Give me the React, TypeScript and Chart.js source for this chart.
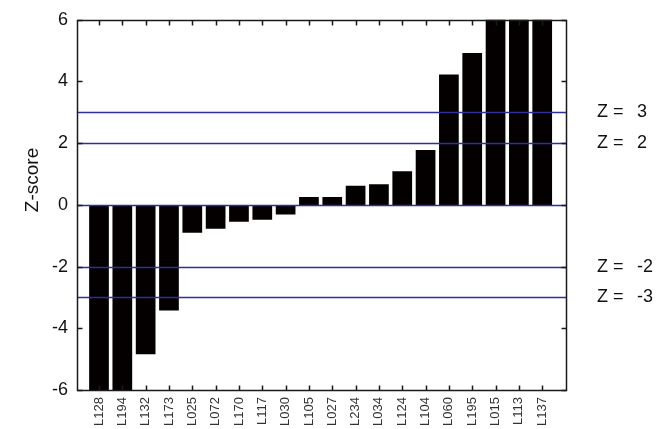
import React, { useEffect, useRef } from 'react';
import { Chart, registerables } from 'chart.js';

Chart.register(...registerables);

const categories = ['L128', 'L194', 'L132', 'L173', 'L025', 'L072', 'L170', 'L117', 'L030', 'L105', 'L027', 'L234', 'L034', 'L124', 'L104', 'L060', 'L195', 'L015', 'L113', 'L137'];
const zScores = [-6.5, -6.3, -4.84, -3.42, -0.9, -0.77, -0.55, -0.48, -0.31, 0.26, 0.26, 0.62, 0.67, 1.09, 1.78, 4.23, 4.92, 6.5, 6.6, 6.7];
const yTickValues = [-6, -4, -2, 0, 2, 4, 6];
const referenceLines = [3, 2, 0, -2, -3];
const labelledLines = [3, 2, -2, -3];
const yTitle = 'Z-score';

const FONT = "'Liberation Sans', Arial, Helvetica, sans-serif";

export default function App() {
  const ref = useRef<HTMLCanvasElement>(null);

  useEffect(() => {
    document.body.style.margin = '0';
    const canvas = ref.current;
    if (!canvas) return;

    const linesPlugin = {
      id: 'refLines',
      afterDatasetsDraw(chart: any) {
        const { ctx, chartArea } = chart;
        const { left, right } = chartArea;
        const ys = chart.scales.y;
        ctx.save();
        ctx.strokeStyle = '#2e2e9e';
        ctx.lineWidth = 1.4;
        referenceLines.forEach((v) => {
          const py = Math.round(ys.getPixelForValue(v)) + 0.5;
          ctx.beginPath();
          ctx.moveTo(left, py);
          ctx.lineTo(right, py);
          ctx.stroke();
        });
        ctx.restore();
      },
    };

    const framePlugin = {
      id: 'frameBox',
      afterDraw(chart: any) {
        const ctx: CanvasRenderingContext2D = chart.ctx;
        const { left, right, top, bottom } = chart.chartArea;
        const xs = chart.scales.x;
        const ys = chart.scales.y;
        const l = Math.round(left) + 0.5;
        const r = Math.round(right) + 0.5;
        const t = Math.round(top) + 0.5;
        const b = Math.round(bottom) + 0.5;
        ctx.save();
        ctx.setLineDash([]);
        ctx.globalAlpha = 1;
        ctx.strokeStyle = '#1a1a1a';
        ctx.lineWidth = 1.5;
        ctx.beginPath();
        categories.forEach((_, i) => {
          const px = Math.round(xs.getPixelForValue(i)) + 0.5;
          ctx.moveTo(px, b);
          ctx.lineTo(px, b - 5);
          ctx.moveTo(px, t);
          ctx.lineTo(px, t + 5);
        });
        yTickValues.forEach((v) => {
          const py = Math.round(ys.getPixelForValue(v)) + 0.5;
          ctx.moveTo(l, py);
          ctx.lineTo(l + 5, py);
          ctx.moveTo(r, py);
          ctx.lineTo(r - 5, py);
        });
        ctx.stroke();
        ctx.beginPath();
        ctx.rect(l, t, r - l, b - t);
        ctx.stroke();

        ctx.fillStyle = '#111';
        ctx.font = `18px ${FONT}`;
        ctx.textBaseline = 'middle';
        ctx.textAlign = 'left';
        labelledLines.forEach((v) => {
          const py = ys.getPixelForValue(v);
          ctx.fillText('Z =', right + 31, py);
          ctx.fillText(String(v), right + 71, py);
        });

        ctx.translate(33, 180);
        ctx.rotate(-Math.PI / 2);
        ctx.textAlign = 'center';
        ctx.font = `19px ${FONT}`;
        ctx.fillText(yTitle, 0, 0);
        ctx.restore();
      },
    };

    const chart = new Chart(canvas, {
      type: 'bar',
      data: {
        datasets: [
          {
            data: zScores.map((v, i) => ({ x: i, y: v })),
            backgroundColor: '#050000',
            borderWidth: 0,
            barPercentage: 0.845,
            categoryPercentage: 1,
            clip: 0,
          } as any,
        ],
      },
      options: {
        animation: false,
        responsive: false,
        events: [],
        layout: { padding: { top: 18, right: 94, left: 0, bottom: 0 } },
        plugins: {
          legend: { display: false },
          tooltip: { enabled: false },
          title: { display: false },
        },
        scales: {
          x: {
            type: 'linear',
            offset: false,
            min: -0.943,
            max: 20.02,
            grid: { display: false, drawTicks: false, offset: false },
            border: { display: false },
            afterBuildTicks: (scale: any) => {
              scale.ticks = categories.map((_, i) => ({ value: i }));
            },
            afterFit: (scale: any) => {
              scale.height = 39;
            },
            ticks: {
              autoSkip: false,
              minRotation: 90,
              maxRotation: 90,
              padding: 7,
              color: '#333',
              font: { family: FONT, size: 13 },
              callback: (_v: any, i: number) => categories[i],
            },
          },
          y: {
            min: -6,
            max: 6,
            grid: { display: false, drawTicks: false },
            border: { display: false },
            afterBuildTicks: (scale: any) => {
              scale.ticks = yTickValues.map((v) => ({ value: v }));
            },
            afterFit: (scale: any) => {
              scale.width = 77;
            },
            ticks: {
              padding: 9,
              color: '#111',
              font: { family: FONT, size: 18 },
              callback: (v: any) => String(v),
            },
          },
        },
      },
      plugins: [linesPlugin, framePlugin],
    } as any);

    return () => chart.destroy();
  }, []);

  return (
    <div style={{ width: 660, height: 429 }}>
      <canvas ref={ref} width={660} height={429} style={{ display: 'block' }} />
    </div>
  );
}
